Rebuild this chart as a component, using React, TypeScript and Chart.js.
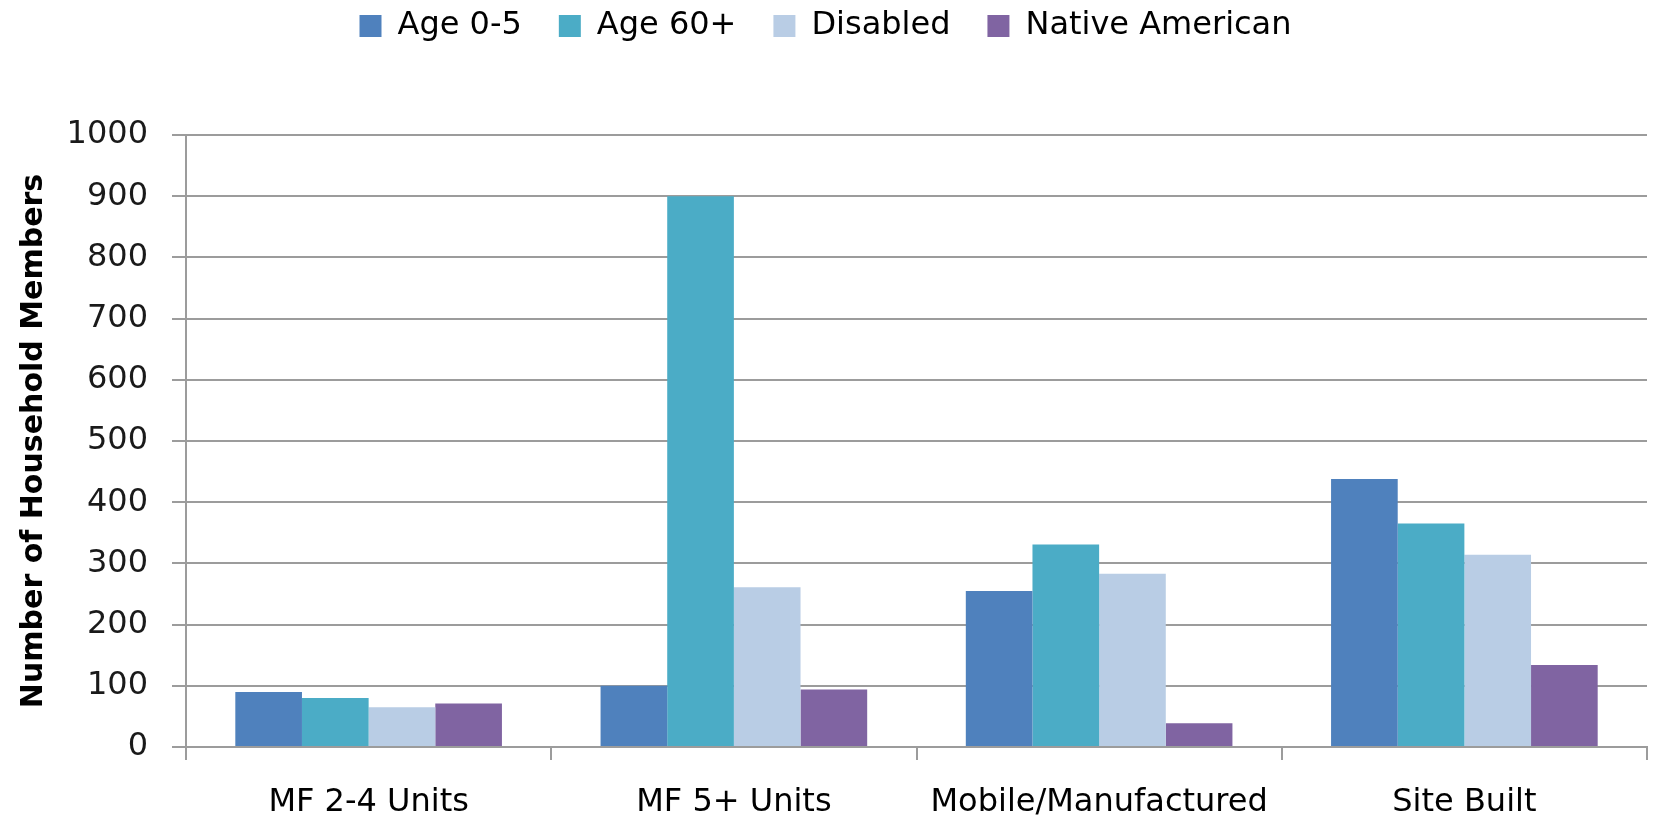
import React, { useEffect, useRef } from "react";
import { Chart, registerables } from "chart.js";

Chart.register(...registerables);

const categories = ["MF 2-4 Units", "MF 5+ Units", "Mobile/Manufactured", "Site Built"];
const seriesNames = ["Age 0-5", "Age 60+", "Disabled", "Native American"];
const age0to5 = [90, 100, 255, 438];
const age60plus = [80, 900, 331, 365];
const disabled = [65, 261, 283, 314];
const nativeAmerican = [71, 94, 39, 134];
const seriesColors = ["#4F81BD", "#4BACC6", "#B9CDE5", "#8064A2"];
const yMin = 0;
const yMax = 1000;
const yStep = 100;
const yTitle = "Number of Household Members";

const FONT = "'DejaVu Sans', Verdana, sans-serif";
const GRID = "#9c9c9c";

// shifts the legend upward after layout (keeps the horizontal spacing between items)
const legendShift = {
  id: "legendShift",
  afterLayout(chart: any) {
    const lg = chart.legend;
    if (lg) {
      lg.top -= 27;
      lg.bottom -= 27;
    }
  },
};

export default function App() {
  const ref = useRef<HTMLCanvasElement | null>(null);

  useEffect(() => {
    if (!ref.current) return;
    const values = [age0to5, age60plus, disabled, nativeAmerican];
    const chart = new Chart(ref.current, {
      type: "bar",
      data: {
        labels: categories,
        datasets: seriesNames.map((name, i) => ({
          label: name,
          data: values[i],
          backgroundColor: seriesColors[i],
          borderWidth: 0,
          categoryPercentage: 0.73,
          barPercentage: 1.0,
        })),
      },
      plugins: [legendShift],
      options: {
        responsive: false,
        animation: false,
        devicePixelRatio: 1,
        layout: { padding: { top: 0, left: 4, right: 11, bottom: 0 } },
        plugins: {
          tooltip: { enabled: false },
          legend: {
            position: "top",
            labels: {
              boxWidth: 22,
              boxHeight: 22,
              padding: 37,
              color: "#000",
              font: { family: FONT, size: 32 },
            },
          },
          title: {
            display: true,
            text: "",
            weight: 500,
            padding: { top: 0, bottom: 46 },
            font: { size: 10, lineHeight: 1 },
          },
        },
        scales: {
          x: {
            offset: true,
            afterFit: (scale: any) => {
              scale.height = 69;
            },
            grid: {
              offset: true,
              drawOnChartArea: false,
              drawTicks: true,
              tickLength: 13,
              color: GRID,
              lineWidth: 2,
            },
            border: { display: true, color: GRID, width: 2 },
            ticks: {
              padding: 27,
              color: "#000",
              font: { family: FONT, size: 32, lineHeight: 1 },
              maxRotation: 0,
              autoSkip: false,
            },
          },
          y: {
            min: yMin,
            max: yMax,
            afterFit: (scale: any) => {
              scale.width = 182;
            },
            grid: {
              color: GRID,
              lineWidth: 2,
              drawTicks: true,
              tickLength: 14,
            },
            border: { display: true, color: GRID, width: 2 },
            ticks: {
              stepSize: yStep,
              padding: 24,
              color: "#1a1a1a",
              font: { family: FONT, size: 32 },
              callback: (v: any) => String(v),
            },
            title: {
              display: true,
              text: yTitle,
              color: "#000",
              padding: { top: 12, bottom: 10 },
              font: { family: FONT, size: 30, weight: "bold", lineHeight: 1.2 },
            },
          },
        },
      },
    });
    return () => chart.destroy();
  }, []);

  return (
    <div style={{ position: "absolute", left: 0, top: 0, width: 1658, height: 816, background: "#fff" }}>
      <canvas ref={ref} width={1658} height={816} style={{ display: "block" }} />
    </div>
  );
}
